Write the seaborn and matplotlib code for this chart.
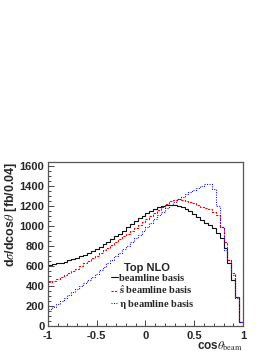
import numpy as np
import pandas as pd
import matplotlib
matplotlib.use("Agg")
import matplotlib.pyplot as plt
import seaborn as sns
from matplotlib.ticker import MultipleLocator

# bin edges: 50 bins of width 0.04 between -1 and 1
edges = np.linspace(-1, 1, 51)
centers = 0.5 * (edges[:-1] + edges[1:])

# Top NLO, beamline basis
beamline = [612, 617, 624, 633, 643, 654, 667, 681, 696, 712,
            730, 749, 770, 792, 815, 840, 866, 894, 923, 953,
            984, 1015, 1045, 1074, 1102, 1128, 1152, 1172, 1189, 1202,
            1210, 1212, 1208, 1199, 1186, 1168, 1145, 1120, 1090, 1060,
            1032, 1012, 975, 925, 875, 774, 624, 456, 289, 38]
# s-hat beamline basis
shat = [436, 452, 470, 489, 508, 528, 548, 569, 600, 625,
        650, 676, 702, 728, 755, 782, 810, 838, 866, 894,
        922, 951, 980, 1010, 1040, 1070, 1100, 1130, 1160, 1190,
        1220, 1245, 1262, 1265, 1260, 1252, 1240, 1227, 1205, 1185,
        1175, 1165, 1142, 1108, 990, 840, 660, 526, 289, 38]
# eta beamline basis
eta = [165, 191, 218, 246, 275, 304, 334, 364, 395, 426,
       458, 490, 523, 556, 590, 624, 659, 694, 730, 766,
       802, 838, 875, 912, 950, 988, 1028, 1066, 1104, 1140,
       1175, 1207, 1237, 1265, 1291, 1315, 1338, 1360, 1382, 1402,
       1418, 1420, 1365, 1200, 990, 757, 657, 506, 276, 38]

labels = ["beamline basis", r"$\hat{\mathbf{s}}$ beamline basis",
          r"$\mathbf{\eta}$ beamline basis"]

sns.set_style("ticks")
plt.rcParams['font.family'] = ['Liberation Sans', 'DejaVu Sans']
plt.rcParams['mathtext.fontset'] = 'stix'

fig = plt.figure(figsize=(2.74, 3.55), dpi=100)
ax = fig.add_axes([0.175, 0.082, 0.712, 0.462])

styles = [("#111111", "-"), ("red", (0, (2, 1.2))), ("blue", (0, (0.9, 1.3)))]
for vals, lab, (col, ls) in zip([beamline, shat, eta], labels, styles):
    df = pd.DataFrame({"x": centers, "w": vals})
    sns.histplot(data=df, x="x", weights="w", bins=list(edges), element="step",
                 fill=False, color=col, linestyle=ls, linewidth=0.8,
                 label=lab, ax=ax)

ax.set_xlim(-1, 1)
ax.set_ylim(0, 1640)
ax.xaxis.set_major_locator(MultipleLocator(0.5))
ax.xaxis.set_minor_locator(MultipleLocator(0.1))
ax.yaxis.set_major_locator(MultipleLocator(200))
ax.yaxis.set_minor_locator(MultipleLocator(50))
ax.set_xticks([-1, -0.5, 0, 0.5, 1])
ax.set_xticklabels(["-1", "-0.5", "0", "0.5", "1"])
ax.tick_params(which="both", direction="in", top=False, right=False,
               labelsize=8)
ax.tick_params(axis="y", pad=2.5)
ax.tick_params(axis="x", pad=3.5)
ax.tick_params(which="major", length=4, width=0.6)
ax.tick_params(which="minor", length=2, width=0.6)
for t in ax.get_xticklabels() + ax.get_yticklabels():
    t.set_fontweight("bold")
for s in ax.spines.values():
    s.set_color("#555555")
    s.set_linewidth(0.9)

ax.set_ylabel(r"d$\sigma$/dcos$\theta$ [fb/0.04]", fontsize=9,
              fontweight="bold", loc="top")
ax.yaxis.set_label_coords(-0.15, 1.0)
ax.set_xlabel(r"cos$\theta_{\rm beam}$", fontsize=8.5, fontweight="bold",
              loc="right")
ax.xaxis.set_label_coords(1.0, -0.08)

ax.text(0.39, 0.355, "Top NLO", transform=ax.transAxes, fontsize=8,
        fontweight="bold", va="center", ha="left")
leg = ax.legend(loc="upper left", bbox_to_anchor=(0.325, 0.32),
                frameon=False, handlelength=0.6,
                handletextpad=0.15, labelspacing=0.12, borderpad=0,
                borderaxespad=0,
                prop={"family": "Liberation Serif", "weight": "bold", "size": 7.5})

fig.savefig("out.png", dpi=100)
